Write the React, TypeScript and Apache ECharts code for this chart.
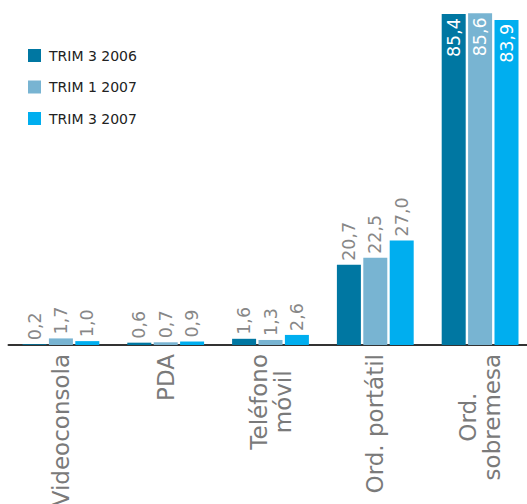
import React, { useEffect, useRef } from "react";
import * as echarts from "echarts";

const categories = ["Videoconsola", "PDA", "Teléfono\nmóvil", "Ord. portátil", "Ord.\nsobremesa"];
const seriesNames = ["TRIM 3 2006", "TRIM 1 2007", "TRIM 3 2007"];
const trim3_2006 = [0.2, 0.6, 1.6, 20.7, 85.4];
const trim1_2007 = [1.7, 0.7, 1.3, 22.5, 85.6];
const trim3_2007 = [1.0, 0.9, 2.6, 27.0, 83.9];
const seriesValues = [trim3_2006, trim1_2007, trim3_2007];
const colors = ["#0077a2", "#78b4d2", "#00aeef"];
const insideThreshold = 50;

const FONT = "DejaVu Sans";
const fmt = (v: number) => v.toFixed(1).replace(".", ",");

export default function App() {
  const ref = useRef<HTMLDivElement>(null);
  useEffect(() => {
    if (!ref.current) return;
    const chart = echarts.init(ref.current, undefined, { renderer: "svg" });
    const series = seriesValues.map((vals, si) => ({
      name: seriesNames[si],
      type: "bar",
      barWidth: 24,
      barGap: "10%",
      itemStyle: { color: colors[si] },
      data: vals.map((v) =>
        v > insideThreshold
          ? {
              value: v,
              label: {
                position: "insideTop",
                align: "right",
                color: "#ffffff",
                distance: 4,
              },
            }
          : { value: v }
      ),
      label: {
        show: true,
        rotate: 90,
        position: "top",
        align: "left",
        verticalAlign: "middle",
        distance: 4,
        fontFamily: FONT,
        fontSize: 17.5,
        color: "#878787",
        formatter: (p: any) => fmt(p.value),
      },
    }));
    chart.setOption({
      animation: false,
      grid: { left: 8.5, top: 4, width: 524, height: 341, outerBoundsMode: "none", containLabel: false },
      legend: {
        orient: "vertical",
        left: 28,
        top: 48.5,
        padding: 0,
        itemWidth: 13,
        itemHeight: 13,
        itemGap: 17.5,
        icon: "rect",
        textStyle: {
          fontFamily: FONT,
          fontSize: 14,
          color: "#222222",
          lineHeight: 14,
          padding: [0, 0, 0, 3],
        },
        data: seriesNames,
      },
      xAxis: {
        type: "category",
        data: categories,
        axisLine: { lineStyle: { color: "#333333", width: 2 } },
        axisTick: { show: false },
        axisLabel: {
          interval: 0,
          rotate: 90,
          margin: 9,
          fontFamily: FONT,
          fontSize: 23,
          lineHeight: 24,
          color: "#7a7a7a",
          formatter: (v: string) =>
            v
              .split("\n")
              .map((s) => `{c|${s}}`)
              .join("\n"),
          rich: {
            c: {
              align: "center",
              fontFamily: FONT,
              fontSize: 23,
              lineHeight: 24,
              color: "#7a7a7a",
            },
          },
        },
      },
      yAxis: {
        type: "value",
        min: 0,
        max: 88,
        show: false,
        splitLine: { show: false },
      },
      series,
    });
    return () => chart.dispose();
  }, []);
  return (
    <div
      ref={ref}
      style={{ position: "fixed", left: 0, top: 0, width: 527, height: 504, background: "#fff" }}
    />
  );
}
